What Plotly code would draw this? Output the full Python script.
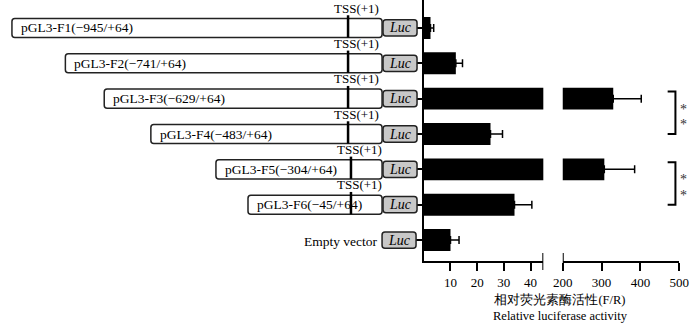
import plotly.graph_objects as go

# ---------------- data ----------------
constructs = ["pGL3-F1(\u2212945/+64)", "pGL3-F2(\u2212741/+64)", "pGL3-F3(\u2212629/+64)",
              "pGL3-F4(\u2212483/+64)", "pGL3-F5(\u2212304/+64)", "pGL3-F6(\u221245/+64)",
              "Empty vector"]
activity = [2.5, 12, 330, 25, 307, 34, 10]
activity_err = [1.2, 2.5, 72, 4.5, 78, 6.5, 3.2]
low_ticks = [10, 20, 30, 40]
high_ticks = [200, 300, 400, 500]
low_range = [0, 44.8]
high_range = [200, 500]
sig_pairs = [(2, 3), (4, 5)]
sig_star = "*"
tss_label = "TSS(+1)"
luc_label = "Luc"
title_cn = "相对荧光素酶活性(F/R)"
title_en = "Relative luciferase activity"

# ---------------- layout helpers (pixel positions of the schematic) ----------------
W, H = 700, 325
box_left_px = [2, 57, 97, 145, 212, 245, None]
box_right_px = 383
tss_px = [348, 348, 348, 348, 351, 351, None]
luc_px = (384, 419)
rows = list(range(len(constructs)))
SERIF = "Liberation Serif, Times New Roman, serif"


def px(x):
    return x / W


def rrect(x0, x1, y0, y1, rx=3 / W, ry=3 / 35.33):
    return (f"M {x0+rx},{y0} L {x1-rx},{y0} Q {x1},{y0} {x1},{y0+ry} "
            f"L {x1},{y1-ry} Q {x1},{y1} {x1-rx},{y1} L {x0+rx},{y1} "
            f"Q {x0},{y1} {x0},{y1-ry} L {x0},{y0+ry} Q {x0},{y0} {x0+rx},{y0} Z")


def note(**kw):
    kw.setdefault("showarrow", False)
    kw.setdefault("xanchor", "center")
    kw.setdefault("yanchor", "middle")
    return kw


fig = go.Figure()
for xa in ["x", "x2"]:
    fig.add_trace(go.Bar(
        x=activity, y=rows, orientation="h", xaxis=xa, yaxis="y",
        width=0.62, marker=dict(color="black", line=dict(width=0)),
        error_x=dict(type="data", array=activity_err, arrayminus=[0] * len(activity),
                     symmetric=False, color="black", thickness=1.5, width=4),
        hoverinfo="skip"))

shapes = []
annotations = []
for i, name in enumerate(constructs):
    lx0, lx1 = luc_px
    if box_left_px[i] is None:
        lx0, lx1 = lx0 - 1, lx1 - 1
    shapes.append(dict(type="path", xref="paper", yref="y",
                       path=rrect(px(lx0), px(lx1), i - 0.23, i + 0.23),
                       line=dict(color="#222", width=1.5), fillcolor="#c8c8c8", layer="above"))
    annotations.append(note(xref="paper", yref="y", x=px((lx0 + lx1) / 2), y=i,
                            text=f"<i>{luc_label}</i>",
                            font=dict(family=SERIF, size=14, color="black")))
    if box_left_px[i] is not None:
        shapes.append(dict(type="path", xref="paper", yref="y",
                           path=rrect(px(box_left_px[i]), px(box_right_px), i - 0.27, i + 0.27),
                           line=dict(color="#222", width=1.5), fillcolor="white", layer="above"))
        shapes.append(dict(type="line", xref="paper", yref="y",
                           x0=px(tss_px[i]), x1=px(tss_px[i]), y0=i - 0.36, y1=i + 0.27,
                           line=dict(color="black", width=2.5), layer="above"))
        annotations.append(note(xref="paper", yref="y", x=px(tss_px[i] + 9), y=i - 0.56,
                                text=tss_label,
                                font=dict(family=SERIF, size=13, color="black")))
        annotations.append(note(xref="paper", yref="y", x=px(box_left_px[i] + 7), y=i,
                                xanchor="left", text=name,
                                font=dict(family=SERIF, size=13.5, color="black")))
    else:
        annotations.append(note(xref="paper", yref="y", x=px(381), y=i + 0.05,
                                xanchor="right", text=name,
                                font=dict(family=SERIF, size=13.5, color="black")))

# axis break marks
for xr, xv in [("x", low_range[1]), ("x2", high_range[0])]:
    shapes.append(dict(type="line", xref=xr, yref="paper", x0=xv, x1=xv,
                       y0=1 - 253 / H, y1=1 - 270 / H, line=dict(color="black", width=2)))

# significance brackets
for a, b in sig_pairs:
    y0, y1 = a - 0.2, b
    shapes.append(dict(type="path", xref="paper", yref="y",
                       path=f"M {px(677)},{y0} L {px(685)},{y0} L {px(685)},{y1} L {px(677)},{y1}",
                       line=dict(color="black", width=2)))
    ym = (y0 + y1) / 2
    for d in (-0.22, 0.22):
        annotations.append(note(xref="paper", yref="y", x=px(693), y=ym + d, yshift=-4,
                                text=sig_star,
                                font=dict(family=SERIF, size=14, color="#333")))

# two-line axis title (Chinese + English)
annotations.append(note(xref="paper", yref="paper", x=px(567), y=1 - 324.5 / H,
                        yanchor="bottom", text=f"{title_cn}<br>{title_en}",
                        font=dict(family=SERIF, size=12.5, color="black")))

axis_common = dict(showgrid=False, zeroline=False, showline=True, linecolor="black",
                   linewidth=2, ticks="outside", ticklen=8, tickwidth=2, tickcolor="black",
                   tickfont=dict(family=SERIF, size=13, color="black"), anchor="y")

fig.update_layout(
    width=W, height=H, margin=dict(l=0, r=0, t=0, b=0),
    paper_bgcolor="white", plot_bgcolor="white", showlegend=False,
    xaxis=dict(domain=[px(426), px(549)], range=low_range, tickvals=low_ticks, **axis_common),
    xaxis2=dict(domain=[px(569), px(689)], range=high_range, tickvals=high_ticks, **axis_common),
    yaxis=dict(domain=[1 - 261 / H, 1], range=[rows[-1] + 0.594, -0.792],
               tickvals=rows, showticklabels=False, showgrid=False, zeroline=False,
               showline=True, linecolor="black", linewidth=2, ticks="outside",
               ticklen=8, tickwidth=2, tickcolor="black", anchor="x"),
    shapes=shapes, annotations=annotations,
)

fig.write_html("out.html", config={"displayModeBar": False},
               post_script="document.body.style.margin='0';document.body.style.overflow='hidden';")
